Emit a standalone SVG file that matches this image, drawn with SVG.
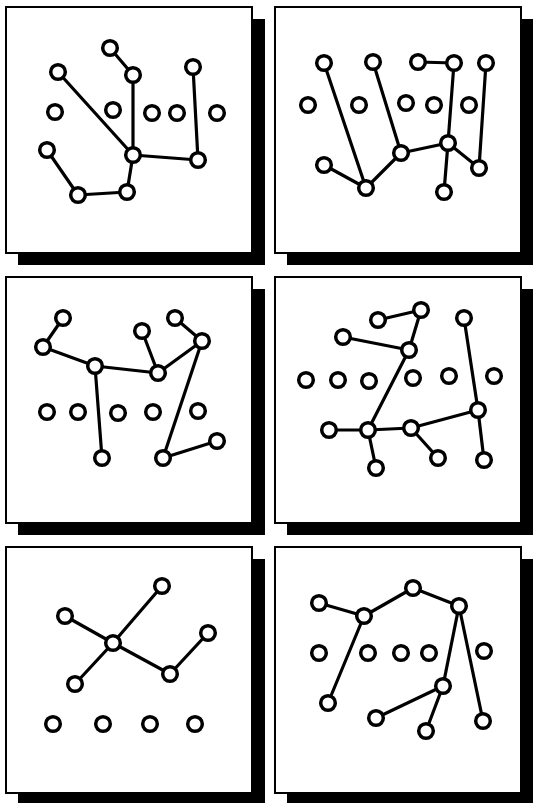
<svg xmlns="http://www.w3.org/2000/svg" width="533" height="803" viewBox="0 0 533 803">
<style>
.shadow{fill:#000}
.frame{fill:#fff;stroke:#000;stroke-width:2}
.edges line{stroke:#000;stroke-width:3.2;stroke-linecap:round}
.node{fill:#fff;stroke:#000;stroke-width:3.5}
</style>
<rect width="533" height="803" fill="#fff"/>
<g id="frames">
<rect class="shadow" x="18" y="19" width="247" height="246"/>
<rect class="frame" x="6" y="7" width="246" height="246"/>
<rect class="shadow" x="287" y="19" width="246" height="246"/>
<rect class="frame" x="275" y="7" width="246" height="246"/>
<rect class="shadow" x="18" y="289" width="247" height="246"/>
<rect class="frame" x="6" y="277" width="246" height="246"/>
<rect class="shadow" x="287" y="289" width="246" height="246"/>
<rect class="frame" x="275" y="277" width="246" height="246"/>
<rect class="shadow" x="18" y="559" width="247" height="244"/>
<rect class="frame" x="6" y="547" width="246" height="246"/>
<rect class="shadow" x="287" y="559" width="246" height="244"/>
<rect class="frame" x="275" y="547" width="246" height="246"/>
</g>
<g id="connectors" class="edges">
<line x1="110" y1="48" x2="133" y2="75"/>
<line x1="133" y1="75" x2="133" y2="155"/>
<line x1="58" y1="72" x2="133" y2="155"/>
<line x1="193" y1="67" x2="198" y2="160"/>
<line x1="133" y1="155" x2="198" y2="160"/>
<line x1="47" y1="150" x2="78" y2="195"/>
<line x1="78" y1="195" x2="127" y2="192"/>
<line x1="127" y1="192" x2="133" y2="155"/>
<line x1="324" y1="63" x2="366" y2="188"/>
<line x1="373" y1="62" x2="401" y2="153"/>
<line x1="418" y1="62" x2="454" y2="63"/>
<line x1="454" y1="63" x2="448" y2="143"/>
<line x1="486" y1="63" x2="479" y2="168"/>
<line x1="401" y1="153" x2="366" y2="188"/>
<line x1="324" y1="165" x2="366" y2="188"/>
<line x1="401" y1="153" x2="448" y2="143"/>
<line x1="448" y1="143" x2="479" y2="168"/>
<line x1="448" y1="143" x2="444" y2="192"/>
<line x1="63" y1="318" x2="43" y2="347"/>
<line x1="43" y1="347" x2="95" y2="366"/>
<line x1="95" y1="366" x2="158" y2="373"/>
<line x1="142" y1="331" x2="158" y2="373"/>
<line x1="175" y1="318" x2="202" y2="341"/>
<line x1="202" y1="341" x2="158" y2="373"/>
<line x1="95" y1="366" x2="102" y2="458"/>
<line x1="202" y1="341" x2="163" y2="458"/>
<line x1="163" y1="458" x2="217" y2="441"/>
<line x1="378" y1="320" x2="421" y2="310"/>
<line x1="421" y1="310" x2="409" y2="350"/>
<line x1="343" y1="337" x2="409" y2="350"/>
<line x1="409" y1="350" x2="368" y2="430"/>
<line x1="464" y1="318" x2="478" y2="410"/>
<line x1="329" y1="430" x2="368" y2="430"/>
<line x1="368" y1="430" x2="411" y2="428"/>
<line x1="411" y1="428" x2="478" y2="410"/>
<line x1="368" y1="430" x2="376" y2="468"/>
<line x1="411" y1="428" x2="438" y2="458"/>
<line x1="478" y1="410" x2="484" y2="460"/>
<line x1="113" y1="643" x2="162" y2="586"/>
<line x1="113" y1="643" x2="65" y2="616"/>
<line x1="113" y1="643" x2="75" y2="684"/>
<line x1="113" y1="643" x2="170" y2="674"/>
<line x1="170" y1="674" x2="208" y2="633"/>
<line x1="319" y1="603" x2="364" y2="616"/>
<line x1="364" y1="616" x2="413" y2="588"/>
<line x1="413" y1="588" x2="459" y2="606"/>
<line x1="364" y1="616" x2="328" y2="703"/>
<line x1="459" y1="606" x2="443" y2="686"/>
<line x1="459" y1="606" x2="483" y2="721"/>
<line x1="443" y1="686" x2="376" y2="718"/>
<line x1="443" y1="686" x2="426" y2="731"/>
</g>
<g id="panel1-nodes">
<circle id="p1n1" class="node" cx="110" cy="48" r="7.3"/>
<circle id="p1n2" class="node" cx="133" cy="75" r="7.3"/>
<circle id="p1n3" class="node" cx="58" cy="72" r="7.3"/>
<circle id="p1n4" class="node" cx="193" cy="67" r="7.3"/>
<circle id="p1n5" class="node" cx="55" cy="112" r="7.3"/>
<circle id="p1n6" class="node" cx="113" cy="110" r="7.3"/>
<circle id="p1n7" class="node" cx="152" cy="113" r="7.3"/>
<circle id="p1n8" class="node" cx="177" cy="113" r="7.3"/>
<circle id="p1n9" class="node" cx="217" cy="113" r="7.3"/>
<circle id="p1n10" class="node" cx="47" cy="150" r="7.3"/>
<circle id="p1n11" class="node" cx="133" cy="155" r="7.3"/>
<circle id="p1n12" class="node" cx="198" cy="160" r="7.3"/>
<circle id="p1n13" class="node" cx="78" cy="195" r="7.3"/>
<circle id="p1n14" class="node" cx="127" cy="192" r="7.3"/>
</g>
<g id="panel2-nodes">
<circle id="p2n1" class="node" cx="324" cy="63" r="7.3"/>
<circle id="p2n2" class="node" cx="373" cy="62" r="7.3"/>
<circle id="p2n3" class="node" cx="418" cy="62" r="7.3"/>
<circle id="p2n4" class="node" cx="454" cy="63" r="7.3"/>
<circle id="p2n5" class="node" cx="486" cy="63" r="7.3"/>
<circle id="p2n6" class="node" cx="308" cy="105" r="7.3"/>
<circle id="p2n7" class="node" cx="359" cy="105" r="7.3"/>
<circle id="p2n8" class="node" cx="406" cy="103" r="7.3"/>
<circle id="p2n9" class="node" cx="434" cy="105" r="7.3"/>
<circle id="p2n10" class="node" cx="469" cy="105" r="7.3"/>
<circle id="p2n11" class="node" cx="401" cy="153" r="7.3"/>
<circle id="p2n12" class="node" cx="448" cy="143" r="7.3"/>
<circle id="p2n13" class="node" cx="324" cy="165" r="7.3"/>
<circle id="p2n14" class="node" cx="366" cy="188" r="7.3"/>
<circle id="p2n15" class="node" cx="479" cy="168" r="7.3"/>
<circle id="p2n16" class="node" cx="444" cy="192" r="7.3"/>
</g>
<g id="panel3-nodes">
<circle id="p3n1" class="node" cx="63" cy="318" r="7.3"/>
<circle id="p3n2" class="node" cx="43" cy="347" r="7.3"/>
<circle id="p3n3" class="node" cx="95" cy="366" r="7.3"/>
<circle id="p3n4" class="node" cx="142" cy="331" r="7.3"/>
<circle id="p3n5" class="node" cx="175" cy="318" r="7.3"/>
<circle id="p3n6" class="node" cx="202" cy="341" r="7.3"/>
<circle id="p3n7" class="node" cx="158" cy="373" r="7.3"/>
<circle id="p3n8" class="node" cx="47" cy="412" r="7.3"/>
<circle id="p3n9" class="node" cx="78" cy="412" r="7.3"/>
<circle id="p3n10" class="node" cx="118" cy="413" r="7.3"/>
<circle id="p3n11" class="node" cx="153" cy="412" r="7.3"/>
<circle id="p3n12" class="node" cx="198" cy="411" r="7.3"/>
<circle id="p3n13" class="node" cx="102" cy="458" r="7.3"/>
<circle id="p3n14" class="node" cx="163" cy="458" r="7.3"/>
<circle id="p3n15" class="node" cx="217" cy="441" r="7.3"/>
</g>
<g id="panel4-nodes">
<circle id="p4n1" class="node" cx="421" cy="310" r="7.3"/>
<circle id="p4n2" class="node" cx="378" cy="320" r="7.3"/>
<circle id="p4n3" class="node" cx="343" cy="337" r="7.3"/>
<circle id="p4n4" class="node" cx="464" cy="318" r="7.3"/>
<circle id="p4n5" class="node" cx="409" cy="350" r="7.3"/>
<circle id="p4n6" class="node" cx="306" cy="380" r="7.3"/>
<circle id="p4n7" class="node" cx="338" cy="380" r="7.3"/>
<circle id="p4n8" class="node" cx="369" cy="381" r="7.3"/>
<circle id="p4n9" class="node" cx="413" cy="378" r="7.3"/>
<circle id="p4n10" class="node" cx="449" cy="376" r="7.3"/>
<circle id="p4n11" class="node" cx="494" cy="376" r="7.3"/>
<circle id="p4n12" class="node" cx="478" cy="410" r="7.3"/>
<circle id="p4n13" class="node" cx="329" cy="430" r="7.3"/>
<circle id="p4n14" class="node" cx="368" cy="430" r="7.3"/>
<circle id="p4n15" class="node" cx="411" cy="428" r="7.3"/>
<circle id="p4n16" class="node" cx="376" cy="468" r="7.3"/>
<circle id="p4n17" class="node" cx="438" cy="458" r="7.3"/>
<circle id="p4n18" class="node" cx="484" cy="460" r="7.3"/>
</g>
<g id="panel5-nodes">
<circle id="p5n1" class="node" cx="162" cy="586" r="7.3"/>
<circle id="p5n2" class="node" cx="65" cy="616" r="7.3"/>
<circle id="p5n3" class="node" cx="113" cy="643" r="7.3"/>
<circle id="p5n4" class="node" cx="208" cy="633" r="7.3"/>
<circle id="p5n5" class="node" cx="170" cy="674" r="7.3"/>
<circle id="p5n6" class="node" cx="75" cy="684" r="7.3"/>
<circle id="p5n7" class="node" cx="53" cy="724" r="7.3"/>
<circle id="p5n8" class="node" cx="103" cy="724" r="7.3"/>
<circle id="p5n9" class="node" cx="150" cy="724" r="7.3"/>
<circle id="p5n10" class="node" cx="195" cy="724" r="7.3"/>
</g>
<g id="panel6-nodes">
<circle id="p6n1" class="node" cx="319" cy="603" r="7.3"/>
<circle id="p6n2" class="node" cx="364" cy="616" r="7.3"/>
<circle id="p6n3" class="node" cx="413" cy="588" r="7.3"/>
<circle id="p6n4" class="node" cx="459" cy="606" r="7.3"/>
<circle id="p6n5" class="node" cx="319" cy="653" r="7.3"/>
<circle id="p6n6" class="node" cx="368" cy="653" r="7.3"/>
<circle id="p6n7" class="node" cx="401" cy="653" r="7.3"/>
<circle id="p6n8" class="node" cx="429" cy="653" r="7.3"/>
<circle id="p6n9" class="node" cx="484" cy="651" r="7.3"/>
<circle id="p6n10" class="node" cx="443" cy="686" r="7.3"/>
<circle id="p6n11" class="node" cx="328" cy="703" r="7.3"/>
<circle id="p6n12" class="node" cx="376" cy="718" r="7.3"/>
<circle id="p6n13" class="node" cx="426" cy="731" r="7.3"/>
<circle id="p6n14" class="node" cx="483" cy="721" r="7.3"/>
</g>
</svg>
